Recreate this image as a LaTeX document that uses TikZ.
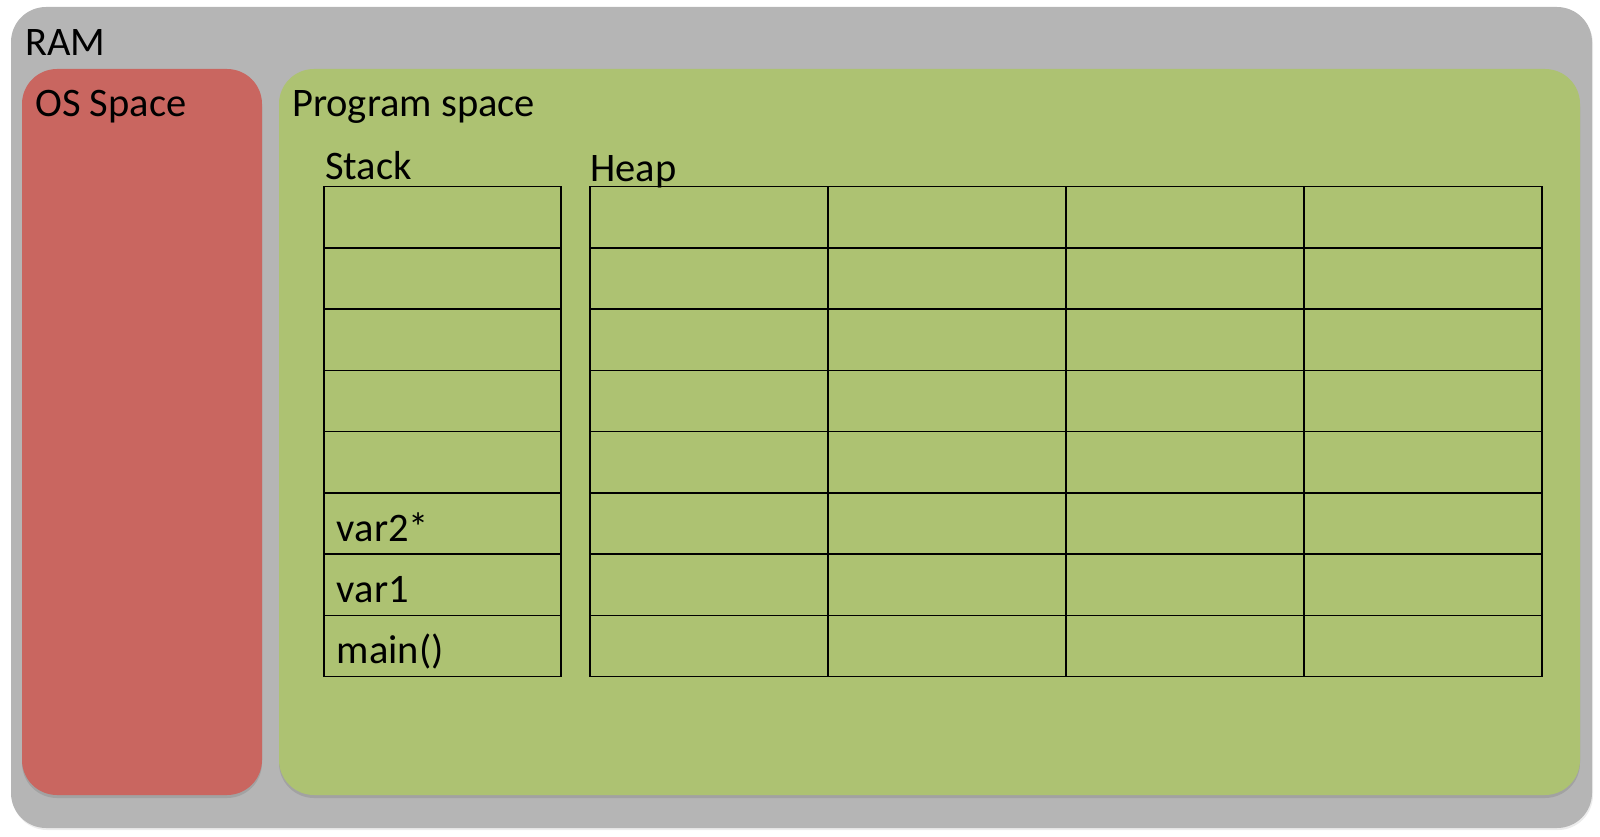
\documentclass[tikz,border=0pt]{standalone}
\usepackage{fontspec}
\setmainfont{Carlito}
\usetikzlibrary{positioning,shadows}
\definecolor{ramgray}{RGB}{181,181,181}
\definecolor{osred}{RGB}{201,102,96}
\definecolor{proggreen}{RGB}{173,194,114}

\begin{document}
\begin{tikzpicture}[x=1pt, y=-1pt,
  region/.style={rounded corners=35pt, anchor=north west, inner sep=0pt, outer sep=0pt},
  inner/.style={region, drop shadow={shadow xshift=0pt, shadow yshift=-3pt, opacity=0.35}},
  cell/.style={draw, line width=1.5pt, anchor=north west, minimum width=237pt, minimum height=61.25pt, inner sep=0pt, outer sep=0pt},
  txt/.style={anchor=base west, inner sep=0pt, font=\fontsize{40.5}{44}\selectfont}
]
\useasboundingbox (0,0) rectangle (1600,837);

% Regions
\node[region, fill=ramgray, minimum width=1581pt, minimum height=821pt,
  drop shadow={shadow xshift=1pt, shadow yshift=-2pt, opacity=0.15}] (ram) at (11,7) {};
\node[inner, fill=osred, minimum width=240pt, minimum height=726pt] (os) at (22,69) {};
\node[inner, fill=proggreen, minimum width=1301pt, minimum height=726pt] (prog) at (279,69) {};

% Titles
\node[txt] (ramlbl) at (25,56) {RAM};
\node[txt] (oslbl) at (35,117) {OS Space};
\node[txt] (proglbl) at (292,117) {Program space};
\node[txt] (stacklbl) at (325,180) {Stack};
\node[txt] (heaplbl) at (590,182) {Heap};

% Stack cells
\foreach \r in {1,...,8}
  \node[cell] (s\r) at (324, {186.7+61.25*(\r-1)}) {};

% Heap cells
\foreach \r in {1,...,8}
  \foreach \c in {1,...,4}
    \node[cell, minimum width=238pt] (h\r\c) at ({590+238*(\c-1)}, {186.7+61.25*(\r-1)}) {};

% Stack entries
\node[txt] (var2) at ([xshift=12.7pt, yshift=13pt]s6.south west) {var2*};
\node[txt] (var1) at ([xshift=12.7pt, yshift=13pt]s7.south west) {var1};
\node[txt] (mainfn) at ([xshift=12.7pt, yshift=13pt]s8.south west) {main()};

\end{tikzpicture}
\end{document}
